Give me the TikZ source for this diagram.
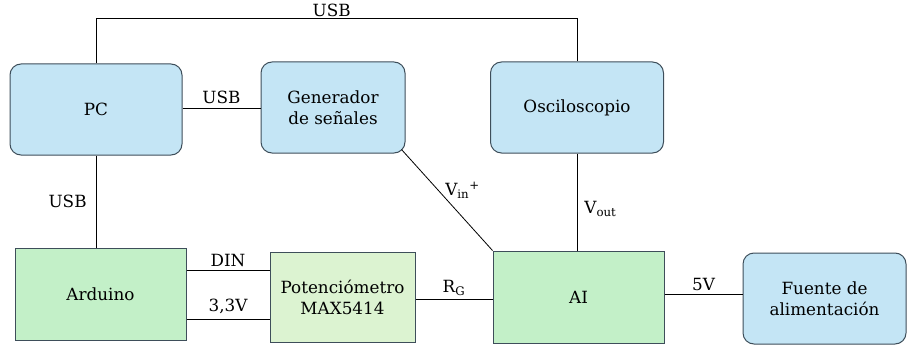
\documentclass[tikz,border=0pt]{standalone}
\usepackage{fontspec}
\setmainfont{DejaVu Serif}
\usetikzlibrary{positioning}
\definecolor{bluefill}{HTML}{C4E5F5}
\definecolor{greenfill}{HTML}{C3F0C8}
\definecolor{lightgreen}{HTML}{DCF3D1}
\definecolor{edgecol}{HTML}{3E4E5A}
\begin{document}
\begin{tikzpicture}[x=1pt,y=-1pt,
  every node/.style={font=\fontsize{16.8}{21}\selectfont, inner sep=0pt},
  bluebox/.style={draw=edgecol, fill=bluefill, rounded corners=11pt, line width=1pt, align=center},
  greenbox/.style={draw=edgecol, fill=greenfill, line width=1pt, align=center},
  lgreenbox/.style={draw=edgecol, fill=lightgreen, line width=1pt, align=center},
  wire/.style={draw=black, line width=0.8pt},
  lbl/.style={font=\fontsize{16.8}{18}\selectfont}]
\useasboundingbox (0,0) rectangle (907,350);
% boxes
\node[bluebox, minimum width=172pt, minimum height=91pt] (pc) at (96,109.5) {PC};
\node[bluebox, minimum width=144pt, minimum height=91pt] (gen) at (333,107.5) {Generador\\de señales};
\node[bluebox, minimum width=173pt, minimum height=91pt] (osc) at (577,107.5) {Osciloscopio};
\node[greenbox, minimum width=171pt, minimum height=92pt] (ard) at (100.5,294) {Arduino};
\node[lgreenbox, minimum width=145pt, minimum height=90pt] (pot) at (342.5,297) {Potenciómetro\\MAX5414};
\node[greenbox, minimum width=171pt, minimum height=92pt] (ai) at (578.5,297) {AI};
\node[bluebox, minimum width=163pt, minimum height=91pt] (fue) at (824.5,298.5) {Fuente de\\alimentación};
% coordinates
\coordinate (top1) at (pc.north |- 0,18);
\coordinate (top2) at (osc.north |- 0,18);
% wires
\draw[wire] (pc.north) -- (top1) -- node[lbl, above=1pt, pos=0.49] (usbtop) {USB} (top2) -- (osc.north);
\draw[wire] (pc.east |- 0,108) -- node[lbl, above=4pt] (usb2) {USB} (gen.west |- 0,108);
\draw[wire] (pc.south) -- node[lbl, left=9pt] (usb3) {USB} (pc.south |- ard.north);
\draw[wire] (ard.east |- 0,270) -- node[lbl, above=3pt] (din) {DIN} (pot.west |- 0,270);
\draw[wire] (ard.east |- 0,319) -- node[lbl, above=5pt] (v33) {3,3V} (pot.west |- 0,319);
\draw[wire] (pot.east |- 0,299) -- node[lbl, above=3pt] (rg) {R\textsubscript{G}} (ai.west |- 0,299);
\draw[wire] (ai.east |- 0,294) -- node[lbl, above=3pt] (v5) {5V} (fue.west |- 0,294);
\draw[wire] (osc.south) -- node[lbl, right=7pt, pos=0.57] (vout) {V\textsubscript{out}} (osc.south |- ai.north);
\draw[wire] (gen.south east) ++(-4,-4) coordinate (ga) (ga) -- node[lbl, right=7pt, pos=0.4] (vin) {V\textsubscript{in}\textsuperscript{+}} (ai.north west);
\end{tikzpicture}
\end{document}
